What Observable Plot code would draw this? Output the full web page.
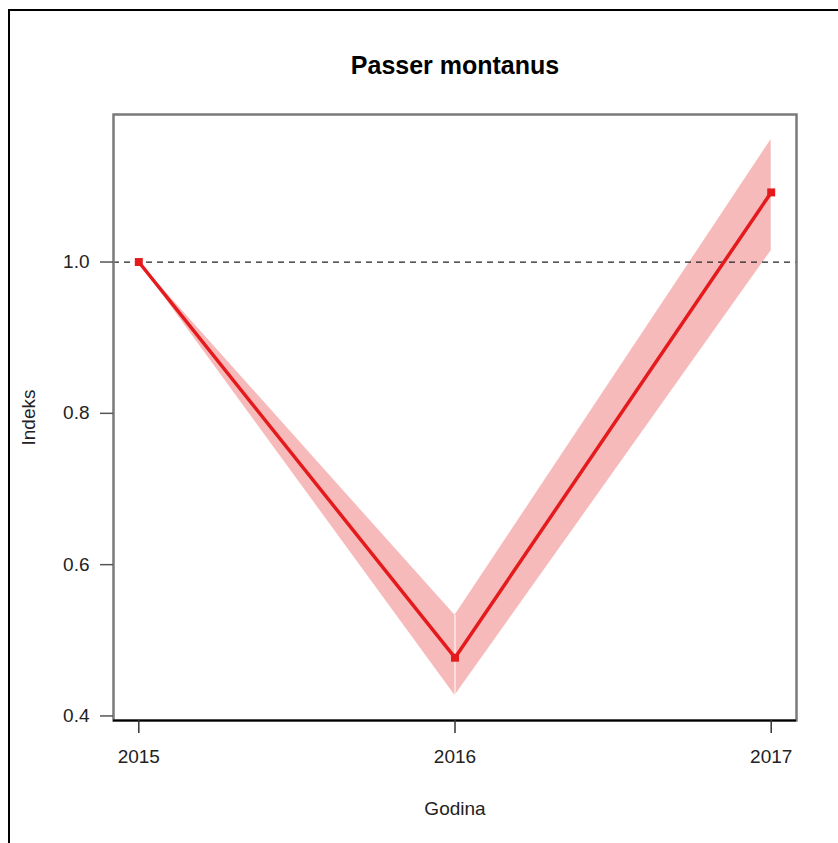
<!DOCTYPE html>
<html>
<head>
<meta charset="utf-8">
<script src="https://cdn.jsdelivr.net/npm/d3@7"></script>
<script src="https://cdn.jsdelivr.net/npm/@observablehq/plot@0.6"></script>
<style>
  html, body { margin: 0; padding: 0; background: #fff; }
  #wrap { position: relative; width: 838px; height: 843px; overflow: hidden; background: #fff; }
  #border { position: absolute; left: 8px; top: 9px; width: 900px; height: 900px; border: 2.5px solid #000; box-sizing: border-box; pointer-events: none; }
  #chart { position: absolute; left: 0; top: 0; }
  svg { font-family: "Liberation Sans", Arial, sans-serif; }
</style>
</head>
<body>
<div id="wrap"><div id="chart"></div><div id="border"></div></div>
<script>
const title = "Passer montanus";
const xLabel = "Godina";
const yLabel = "Indeks";
const years = [2015, 2016, 2017];
const indexValues = [1.0, 0.477, 1.092];
const lowerCI = [1.0, 0.427, 1.015];
const upperCI = [1.0, 0.533, 1.162];
const xTicks = [2015, 2016, 2017];
const yTicks = [0.4, 0.6, 0.8, 1.0];
const refLine = [1.0];

const red = "#E41A1C";

const points = years.map((y, i) => ({year: y, value: indexValues[i], lo: lowerCI[i], hi: upperCI[i]}));
// ribbon drawn as separate segments between consecutive years
const ribbon = [];
for (let i = 0; i < points.length - 1; i++) {
  ribbon.push({...points[i], seg: i});
  ribbon.push({...points[i + 1], seg: i});
}
const innerPoints = points.slice(1, -1);

const xDomain = [2015 - 0.04 * 2, 2017 + 0.04 * 2];
const yMinV = 0.394, yMaxV = 1.195;

const plot = Plot.plot({
  width: 838,
  height: 843,
  marginLeft: 113,
  marginRight: 42,
  marginTop: 114,
  marginBottom: 123,
  style: {fontFamily: "Liberation Sans, Arial, sans-serif", fontSize: "19px", color: "#222", background: "transparent"},
  x: {domain: xDomain},
  y: {domain: [yMinV, yMaxV]},
  marks: [
    Plot.areaY(ribbon, {x: "year", y1: "lo", y2: "hi", z: "seg", fill: red, fillOpacity: 0.3}),
    Plot.ruleX(innerPoints, {x: "year", y1: "lo", y2: "hi", stroke: "#fff", strokeWidth: 1.2, strokeOpacity: 0.8}),
    Plot.ruleY(refLine, {stroke: "#222", strokeWidth: 1.3, strokeDasharray: "6,5"}),
    Plot.line(points, {x: "year", y: "value", stroke: red, strokeWidth: 3.5}),
    Plot.dot(points, {x: "year", y: "value", symbol: "square", fill: red, r: 4.5}),
    Plot.frame({stroke: "#7a7a7a", strokeWidth: 2.5}),
    Plot.ruleY([yMinV], {stroke: "#000", strokeWidth: 2}),
    Plot.axisX({ticks: xTicks, tickFormat: "d", tickSize: 13, tickPadding: 16, stroke: "#333", strokeWidth: 1.5,
      label: xLabel, labelAnchor: "center", labelArrow: "none", labelOffset: 94, fontSize: 19}),
    Plot.axisY({ticks: yTicks, tickFormat: ".1f", tickSize: 13, tickPadding: 11, stroke: "#555", strokeWidth: 1.5,
      label: yLabel, labelAnchor: "center", labelArrow: "none", labelOffset: 92, fontSize: 19}),
    Plot.text([title], {frameAnchor: "top", dy: -58, text: d => d, fontSize: 25, fontWeight: "bold", fill: "#000"})
  ]
});
document.getElementById("chart").appendChild(plot);
</script>
</body>
</html>
